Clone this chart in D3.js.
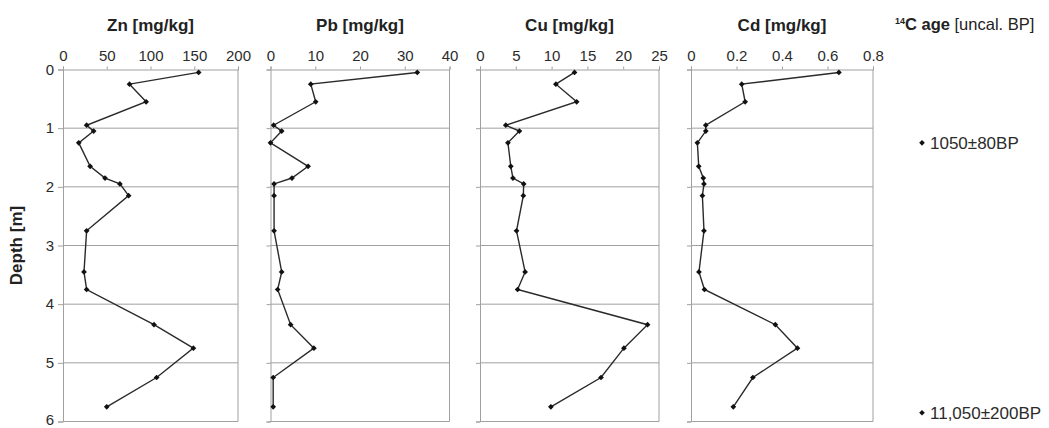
<!DOCTYPE html>
<html>
<head>
<meta charset="utf-8">
<script src="https://cdn.jsdelivr.net/npm/d3@7"></script>
<style>
  body { margin: 0; background: #fff; }
  svg { font-family: "Liberation Sans", Arial, sans-serif; }
</style>
</head>
<body>
<div id="main"></div>
<script>
// DATA
const depth = [0.05, 0.25, 0.55, 0.95, 1.05, 1.25, 1.65, 1.85, 1.95, 2.15, 2.75, 3.45, 3.75, 4.35, 4.75, 5.25, 5.75]
const zn = [155, 76, 95, 27, 35, 18, 31, 48, 65, 75, 27, 24, 27, 104, 149, 107, 50]
const pb = [32.8, 9, 10.1, 0.7, 2.5, 0, 8.4, 4.8, 0.8, 0.8, 0.8, 2.5, 1.6, 4.5, 9.7, 0.6, 0.6]
const cu = [13.2, 10.6, 13.5, 3.6, 5.5, 3.9, 4.3, 4.6, 6.1, 6.05, 5.1, 6.3, 5.25, 23.4, 20.1, 16.9, 9.9]
const cd = [0.65, 0.223, 0.238, 0.065, 0.065, 0.028, 0.034, 0.054, 0.057, 0.05, 0.057, 0.035, 0.059, 0.371, 0.468, 0.272, 0.186]

const titles = ["Zn [mg/kg]", "Pb [mg/kg]", "Cu [mg/kg]", "Cd [mg/kg]"]
const maxes = [200, 40, 25, 0.8]
const steps = [50, 10, 5, 0.2]
const series = [zn, pb, cu, cd]

const ageDepth = [1.25, 5.85]
const ageLabels = ["1050\u00b180BP", "11,050\u00b1200BP"]

// SETUP
const width = 1049, height = 428
const plotTop = 69.5, plotBottom = 421.5
const panelX = [[63, 238], [270.5, 449.5], [480, 659], [691, 873]]

const gridColor = '#a0a0a0'
const lineColor = '#2a2a2a'
const textColor = '#2b2b2b'

let svg = d3.select("#main").append("svg")
  .attr("width", width)
  .attr("height", height)

let y = d3.scaleLinear().domain([0, 6]).range([plotTop, plotBottom])

series.forEach(function(vals, i) {
  let x = d3.scaleLinear().domain([0, maxes[i]]).range(panelX[i])
  let g = svg.append("g")

  // grid lines
  g.selectAll("line.grid")
    .data(d3.range(1, 6))
    .enter().append("line")
      .attr("x1", x.range()[0]).attr("x2", x.range()[1])
      .attr("y1", y).attr("y2", y)
      .attr("stroke", gridColor)

  // border (right + bottom)
  g.append("path")
    .attr("d", `M${x.range()[1]},${plotTop}V${plotBottom}H${x.range()[0]}`)
    .attr("fill", "none")
    .attr("stroke", gridColor)

  // top axis
  let xTicks = d3.range(0, maxes[i] + steps[i] / 2, steps[i])
  let xAxis = g.append("g")
    .attr("transform", `translate(0,${plotTop})`)
    .call(d3.axisTop(x).tickValues(xTicks).tickSize(3).tickPadding(6)
      .tickFormat(d => d3.format(".2~f")(d)))
  xAxis.select(".domain").attr("stroke", gridColor)
  xAxis.selectAll(".tick line").attr("stroke", gridColor)
  xAxis.selectAll("text").attr("font-size", 15).attr("fill", textColor)

  // left axis
  let yAxis = g.append("g")
    .attr("transform", `translate(${x.range()[0]},0)`)
    .call(d3.axisLeft(y).ticks(6).tickSize(i == 0 ? 5 : 4).tickPadding(4)
      .tickFormat(i == 0 ? d3.format("d") : ""))
  yAxis.select(".domain").attr("stroke", gridColor)
  yAxis.selectAll(".tick line").attr("stroke", gridColor)
  yAxis.selectAll("text").attr("font-size", 15).attr("fill", textColor)
  yAxis.selectAll(".tick text").filter(d => d == 6).attr("dy", "0.2em")

  // title
  g.append("text")
    .attr("x", (x.range()[0] + x.range()[1]) / 2)
    .attr("y", 31)
    .attr("text-anchor", "middle")
    .attr("font-size", 17)
    .attr("font-weight", "bold")
    .attr("fill", "#222")
    .text(titles[i])

  // profile line
  let line = d3.line()
    .x(function(d, j) { return x(vals[j]) })
    .y(function(d) { return y(d) })
  g.append("path")
    .attr("d", line(depth))
    .attr("fill", "none")
    .attr("stroke", lineColor)
    .attr("stroke-width", 1.4)

  g.selectAll("path.pt")
    .data(depth)
    .enter().append("path")
      .attr("class", "pt")
      .attr("d", d3.symbol(d3.symbolDiamond2, 21))
      .attr("transform", (d, j) => `translate(${x(vals[j])},${y(d)})`)
      .attr("fill", "#111")
})

// depth label
svg.append("text")
  .attr("transform", `translate(22,${(plotTop + plotBottom) / 2}) rotate(-90)`)
  .attr("text-anchor", "middle")
  .attr("font-size", 17)
  .attr("font-weight", "bold")
  .attr("fill", "#222")
  .text("Depth [m]")

// 14C header
let hdr = svg.append("text")
  .attr("x", 895)
  .attr("y", 30)
  .attr("font-size", 16.5)
  .attr("fill", "#222")
hdr.append("tspan").attr("font-size", 9).attr("dy", -6).attr("font-weight", "bold").text("14")
hdr.append("tspan").attr("dy", 6).attr("font-weight", "bold").text("C age")
hdr.append("tspan").text(" [uncal. BP]")

// age markers
let ages = svg.selectAll("g.age")
  .data(ageDepth)
  .enter().append("g")
    .attr("transform", d => `translate(922,${y(d)})`)
ages.append("path")
  .attr("d", d3.symbol(d3.symbolDiamond2, 20))
  .attr("fill", "#111")
ages.append("text")
  .attr("x", 8)
  .attr("dy", "0.36em")
  .attr("font-size", 17)
  .attr("fill", textColor)
  .text((d, i) => ageLabels[i])
</script>
</body>
</html>
